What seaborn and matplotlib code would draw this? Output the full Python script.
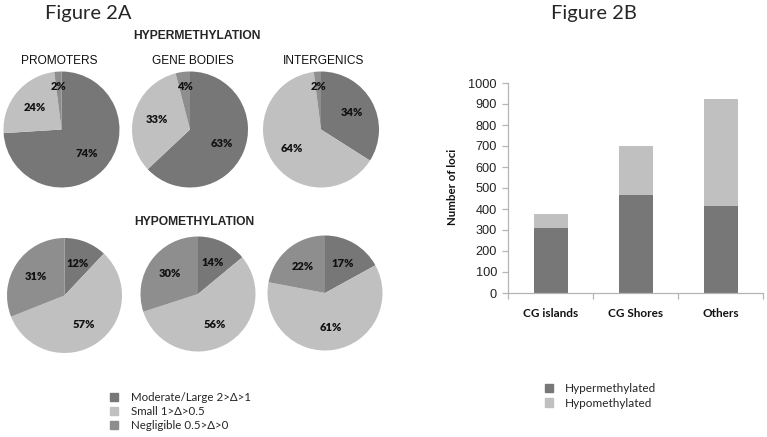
import numpy as np
import pandas as pd
import seaborn as sns
import matplotlib.pyplot as plt
from matplotlib.patches import Patch

sns.set_theme(style='white')
plt.rcParams['font.family'] = ['Lato', 'DejaVu Sans']

# pie data in percent, slice order: moderate/large, small, negligible
regions = ['PROMOTERS', 'GENE BODIES', 'INTERGENICS']
hyper_pct = [[74, 24, 2], [63, 33, 4], [34, 64, 2]]
hypo_pct = [[12, 57, 31], [14, 56, 30], [17, 61, 22]]
delta_labels = ['Moderate/Large 2>Δ>1', 'Small 1>Δ>0.5', 'Negligible 0.5>Δ>0']

# bar data (number of loci)
cg_context = ['CG islands', 'CG Shores', 'Others']
hyper_loci = [310, 465, 415]
hypo_loci = [65, 235, 510]

dark, light, mid = '#777777', '#c0c0c0', '#8e8e8e'
arial = ['Liberation Sans', 'DejaVu Sans']

W, H = 767, 437
fig = plt.figure(figsize=(W / 100, H / 100), dpi=100)


def px_axes(x0, y0, w, h):
    # axes placed in pixel units, y measured from the top
    return fig.add_axes([x0 / W, 1 - (y0 + h) / H, w / W, h / H])


def draw_pie(vals, cx, cy, r):
    ax = px_axes(cx - r, cy - r, 2 * r, 2 * r)
    wedges, texts, autos = ax.pie(
        vals, colors=[dark, light, mid], startangle=90, counterclock=False,
        autopct=lambda p: f'{p:.0f}%', pctdistance=0.6,
        wedgeprops=dict(linewidth=0),
        textprops=dict(fontsize=8, fontweight='heavy', color='#111111'))
    for t, v in zip(autos, vals):
        if v < 5:
            x, y = t.get_position()
            t.set_position((x * 1.25, y * 1.25))
    ax.set_xlim(-1, 1)
    ax.set_ylim(-1, 1)
    return ax


# Figure 2A
fig.text(45 / W, 1 - 19 / H, 'Figure 2A', fontsize=14.5, va='baseline')
fig.text(197 / W, 1 - 36 / H, 'HYPERMETHYLATION', family=arial,
         fontsize=8.7, fontweight='bold', ha='center', va='center')
fig.text(194 / W, 1 - 222 / H, 'HYPOMETHYLATION', family=arial,
         fontsize=8.7, fontweight='bold', ha='center', va='center')

top_cx = [61.5, 190, 321]
bot_cx = [64.5, 198, 325]
bot_cy = [295.5, 294, 293]
title_cx = [59.5, 192.5, 324]
for i in range(3):
    draw_pie(hyper_pct[i], top_cx[i], 129.5, 58)
    draw_pie(hypo_pct[i], bot_cx[i], bot_cy[i], 57.5)
    fig.text(title_cx[i] / W, 1 - 61 / H, regions[i], family=arial,
             fontsize=8.6, ha='center', va='center', color='#111111')

fig.legend(handles=[Patch(color=c) for c in (dark, light, mid)],
           labels=delta_labels, loc='upper left',
           bbox_to_anchor=(110 / W, 1 - 392 / H), frameon=False,
           fontsize=8.3, handlelength=0.7, handleheight=0.7,
           handletextpad=1.15, labelspacing=0.28, borderpad=0,
           borderaxespad=0)

# Figure 2B
fig.text(593.5 / W, 1 - 19 / H, 'Figure 2B', fontsize=14.5, ha='center',
         va='baseline')

df = pd.DataFrame({'context': cg_context,
                   'hyper': hyper_loci,
                   'total': np.add(hyper_loci, hypo_loci)})

bax = px_axes(508, 83, 255, 210)
sns.barplot(data=df, x='context', y='total', color=light, width=0.4,
            saturation=1, linewidth=0, ax=bax)
sns.barplot(data=df, x='context', y='hyper', color=dark, width=0.4,
            saturation=1, linewidth=0, ax=bax)
bax.set_ylim(0, 1000)
bax.set_xlim(-0.5, 2.5)
bax.set_yticks(range(0, 1001, 100))
bax.set_xlabel('')
bax.set_ylabel('Number of loci', fontsize=8.3, fontweight='bold',
               color='#111111')
bax.yaxis.set_label_coords(-0.198, 0.505)

axis_grey = '#b5b5b5'
for s in ['top', 'right']:
    bax.spines[s].set_visible(False)
for s in ['left', 'bottom']:
    bax.spines[s].set_color(axis_grey)
    bax.spines[s].set_linewidth(0.9)

bax.set_xticks([-0.5, 0.5, 1.5, 2.5], minor=True)
bax.tick_params(axis='x', which='major', length=0, pad=11, labelsize=8.5,
                labelcolor='#111111')
bax.tick_params(axis='x', which='minor', length=4, width=0.9,
                color=axis_grey, direction='out', bottom=True)
bax.tick_params(axis='y', length=4, width=0.9, color=axis_grey,
                direction='out', left=True, pad=4, labelsize=9.2,
                labelcolor='#222222')
for lab in bax.get_xticklabels():
    lab.set_fontweight('bold')
for lab in bax.get_yticklabels():
    lab.set_family(arial)

fig.legend(handles=[Patch(color=dark), Patch(color=light)],
           labels=['Hypermethylated', 'Hypomethylated'], loc='upper left',
           bbox_to_anchor=(545 / W, 1 - 383 / H), frameon=False,
           fontsize=8.5, handlelength=0.7, handleheight=0.7,
           handletextpad=0.95, labelspacing=0.3, borderpad=0,
           borderaxespad=0)

fig.savefig('out.png', dpi=100)
